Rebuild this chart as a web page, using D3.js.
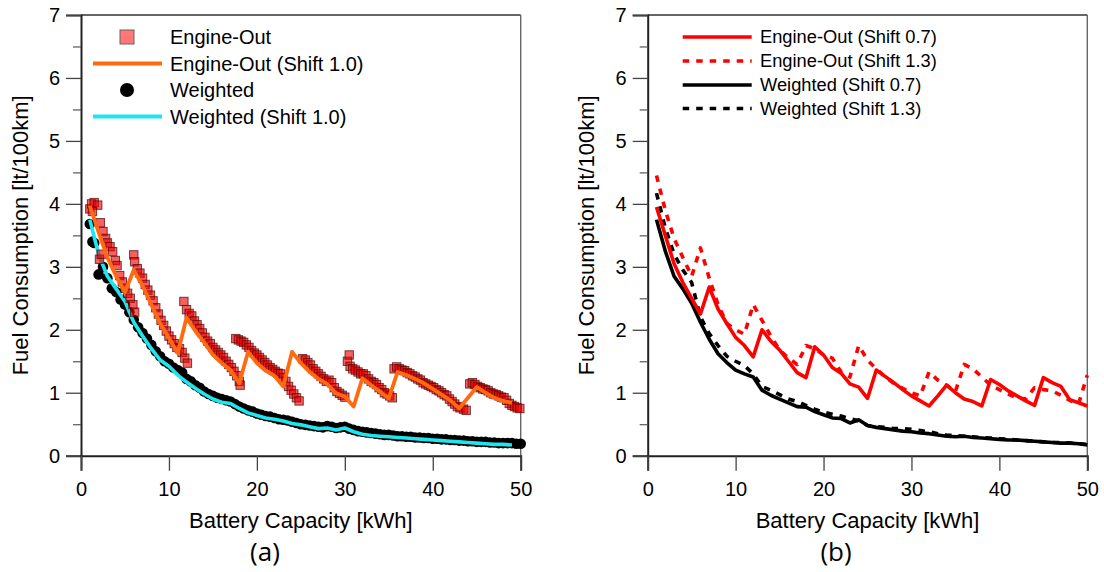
<!DOCTYPE html>
<html><head><meta charset="utf-8">
<script src="https://cdn.jsdelivr.net/npm/d3@7"></script>
<style>body{margin:0;background:#fff}svg text{font-family:"Liberation Sans",Arial,sans-serif;fill:#000}</style>
</head><body><svg id="c" width="1104" height="572"></svg>
<script>
// ---------- DATA ----------
const xTicks = [0,10,20,30,40,50];
const yTicks = [0,1,2,3,4,5,6,7];
const xInt = d3.range(1,51); // integer battery capacities 1..50 kWh

// Panel (a): Engine-Out (Shift 1.0), x = 1..49
const engineOutShift10 = [3.97,3.55,3.15,2.85,2.6,2.95,2.7,2.4,2.1,1.87,1.63,2.19,1.98,1.8,1.6,1.47,1.36,1.15,1.65,1.47,1.35,1.27,1.1,1.65,1.47,1.33,1.22,1.14,0.99,0.94,0.78,1.23,1.12,1.02,0.91,1.33,1.28,1.22,1.15,1.06,0.97,0.88,0.75,0.92,1.09,1.0,0.92,0.87,0.84];
// Panel (a): Weighted (Shift 1.0), x = 1..49
const weightedShift10 = [3.75,3.2,2.85,2.65,2.45,2.12,1.9,1.7,1.52,1.42,1.28,1.17,1.07,0.98,0.9,0.85,0.83,0.75,0.68,0.64,0.6,0.58,0.55,0.51,0.49,0.46,0.43,0.44,0.41,0.44,0.38,0.34,0.32,0.31,0.3,0.29,0.28,0.27,0.26,0.25,0.24,0.23,0.22,0.21,0.2,0.19,0.18,0.18,0.17];
// Panel (a): Engine-Out scatter [kWh, lt/100km]
const engineOutPts = [
[1.0,3.92],[1.2,4.0],[1.5,4.02],[1.9,3.98],[1.3,3.88],[2.1,3.12],[2.3,3.2],[2.2,3.7],[2.5,3.56],[2.8,3.45],[3.0,3.38],[3.3,3.32],[3.6,3.24],[3.9,3.1],[4.1,3.02],[4.4,2.86],[4.7,2.76],[5.0,2.66],[5.3,2.58],[5.6,2.5],[5.9,2.4],[6.1,2.28],
[6.0,3.19],[6.1,3.08],[6.4,2.97],[6.7,2.9],[7.0,2.82],[7.3,2.72],[7.6,2.63],[7.9,2.55],[8.2,2.46],[8.5,2.35],[8.8,2.25],[9.1,2.15],[9.4,2.07],[9.7,1.98],[10.0,1.9],[10.3,1.84],[10.6,1.78],[10.9,1.72],[11.2,1.7],[11.5,1.64],[11.8,1.55],[12.1,1.47],
[11.7,2.45],[12.0,2.32],[12.3,2.26],[12.6,2.22],[12.9,2.14],[13.2,2.08],[13.5,2.02],[13.8,1.95],[14.1,1.88],[14.4,1.82],[14.7,1.78],[15.0,1.72],[15.3,1.68],[15.6,1.64],[15.9,1.6],[16.2,1.56],[16.5,1.5],[16.8,1.45],[17.1,1.4],[17.4,1.34],[17.7,1.27],[18.0,1.18],[18.1,1.12],
[17.6,1.86],[17.9,1.84],[18.2,1.82],[18.5,1.8],[18.8,1.76],[19.1,1.72],[19.4,1.67],[19.7,1.63],[20.0,1.6],[20.3,1.56],[20.6,1.52],[20.9,1.48],[21.2,1.44],[21.5,1.4],[21.8,1.37],[22.1,1.34],[22.4,1.31],[22.7,1.3],[23.0,1.24],[23.3,1.18],[23.6,1.1],[23.9,1.04],[24.2,0.98],[24.5,0.92],[24.8,0.87],
[25.2,1.54],[25.5,1.52],[25.8,1.48],[26.1,1.44],[26.4,1.38],[26.7,1.34],[27.0,1.3],[27.3,1.26],[27.6,1.22],[27.9,1.18],[28.2,1.2],[28.5,1.16],[28.8,1.08],[29.1,1.02],[29.4,0.99],[29.7,0.96],[30.0,0.93],
[30.3,1.5],[30.5,1.6],[30.6,1.42],[30.9,1.38],[31.2,1.36],[31.5,1.33],[31.8,1.3],[32.1,1.3],[32.4,1.27],[32.7,1.22],[33.0,1.18],[33.3,1.16],[33.6,1.13],[33.9,1.08],[34.2,1.05],[34.5,1.0],[34.8,0.98],[35.1,0.95],[35.4,0.92],
[35.6,1.38],[35.9,1.41],[36.2,1.38],[36.5,1.36],[36.8,1.35],[37.1,1.32],[37.4,1.3],[37.7,1.27],[38.0,1.25],[38.3,1.22],[38.6,1.2],[38.9,1.16],[39.2,1.14],[39.5,1.12],[39.8,1.1],[40.1,1.08],[40.4,1.05],[40.7,1.03],[41.0,1.0],[41.3,0.97],[41.6,0.95],[41.9,0.9],[42.2,0.86],[42.5,0.82],[42.8,0.78],[43.1,0.76],[43.5,0.74],[43.8,0.72],
[44.2,1.14],[44.5,1.16],[44.8,1.13],[45.1,1.1],[45.4,1.08],[45.7,1.06],[46.0,1.05],[46.3,1.03],[46.6,1.0],[46.9,0.98],[47.2,0.97],[47.5,0.95],[47.8,0.93],[48.1,0.92],[48.4,0.88],[48.7,0.83],[49.0,0.8],[49.3,0.78],[49.6,0.76],[49.9,0.75]];
// Panel (a): Weighted scatter [kWh, lt/100km]
const weightedPts = [
[1.0,3.68],[1.3,3.4],[1.5,3.38],[2.0,2.88],[2.5,3.0],[3.0,2.82],[3.5,2.66],[4.0,2.6],[4.5,2.48],[5.0,2.4],[5.5,2.28],[6.0,2.16],[6.5,2.04],[7.0,1.95],[7.5,1.86],[8.0,1.76],[8.5,1.66],[9.0,1.58],[9.5,1.5],[10.0,1.46],[10.5,1.4],[11.0,1.36],[11.5,1.32],[12.0,1.22],[12.5,1.18],[13.0,1.12],[13.5,1.08],[14.0,1.02],[14.5,0.98],[15.0,0.95],[15.5,0.92],[16.0,0.9],[16.5,0.88],[17.0,0.86],[17.5,0.82],[18.0,0.78],[18.5,0.75],[19.0,0.72],[19.5,0.7],[20.0,0.67],[20.5,0.65],[21.0,0.63],[21.5,0.62],[22.0,0.6],[22.5,0.58],[23.0,0.57],[23.5,0.56],[24.0,0.54],[24.5,0.52],[25.0,0.5],[25.5,0.49],[26.0,0.48],[26.5,0.47],[27.0,0.46],[27.5,0.45],[28.0,0.47],[28.5,0.46],[29.0,0.44],[29.5,0.45],[30.0,0.46],[30.5,0.43],[31.0,0.41],[31.5,0.39],[32.0,0.38],[32.5,0.37],[33.0,0.36],[33.5,0.35],[34.0,0.34],[34.5,0.33],[35.0,0.33],[35.5,0.32],[36.0,0.31],[36.5,0.31],[37.0,0.3],[37.5,0.3],[38.0,0.29],[38.5,0.29],[39.0,0.28],[39.5,0.28],[40.0,0.27],[40.5,0.27],[41.0,0.26],[41.5,0.26],[42.0,0.25],[42.5,0.25],[43.0,0.24],[43.5,0.24],[44.0,0.23],[44.5,0.23],[45.0,0.22],[45.5,0.22],[46.0,0.22],[46.5,0.21],[47.0,0.21],[47.5,0.2],[48.0,0.2],[48.5,0.2],[49.0,0.2],[49.5,0.19],[50.0,0.19]];

// Panel (b), x = 1..50
const engineOutShift07 = [3.95,3.5,3.05,2.75,2.5,2.25,2.68,2.33,2.1,1.88,1.75,1.57,2.0,1.82,1.68,1.5,1.32,1.24,1.73,1.6,1.4,1.31,1.14,1.09,0.91,1.36,1.26,1.16,1.05,0.95,0.87,0.79,0.95,1.12,1.0,0.9,0.86,0.79,1.21,1.13,1.03,0.95,0.87,0.8,1.24,1.16,1.1,0.89,0.84,0.79];
const engineOutShift13 = [4.45,3.9,3.45,3.15,2.85,3.3,2.82,2.4,2.1,2.0,1.93,2.4,2.15,1.9,1.68,1.55,1.45,1.75,1.7,1.6,1.55,1.33,1.25,1.75,1.52,1.38,1.25,1.15,1.07,1.0,0.95,1.33,1.2,1.12,1.02,1.45,1.38,1.25,1.12,1.05,0.98,0.92,0.9,1.08,1.05,1.03,0.96,0.88,0.82,1.28];
const weightedShift07 = [3.75,3.25,2.85,2.65,2.42,2.12,1.85,1.62,1.48,1.36,1.3,1.25,1.04,0.96,0.9,0.84,0.78,0.77,0.7,0.65,0.6,0.59,0.52,0.57,0.48,0.45,0.43,0.41,0.39,0.38,0.36,0.35,0.33,0.31,0.3,0.31,0.29,0.28,0.27,0.26,0.25,0.25,0.24,0.23,0.22,0.21,0.2,0.2,0.19,0.17];
const weightedShift13 = [4.17,3.62,3.2,2.95,2.75,2.2,1.94,1.75,1.58,1.5,1.43,1.3,1.1,1.04,0.97,0.9,0.86,0.8,0.74,0.69,0.66,0.63,0.59,0.55,0.48,0.46,0.45,0.43,0.43,0.42,0.4,0.38,0.35,0.33,0.32,0.31,0.3,0.29,0.28,0.27,0.26,0.25,0.24,0.23,0.22,0.21,0.21,0.2,0.19,0.18];

const legendA = ["Engine-Out","Engine-Out (Shift 1.0)","Weighted","Weighted (Shift 1.0)"];
const legendB = ["Engine-Out (Shift 0.7)","Engine-Out (Shift 1.3)","Weighted (Shift 0.7)","Weighted (Shift 1.3)"];
const xTitle = "Battery Capacity [kWh]", yTitle = "Fuel Consumption [lt/100km]";

// ---------- DRAW ----------
const svg = d3.select("#c");
const y = d3.scaleLinear().domain([0,7]).range([455.7,15]);

function frame(x, panelLabel, labelX){
  const g = svg.append("g");
  const [x0,x1] = x.range();
  g.append("line").attr("x1",x0).attr("x2",x1).attr("y1",y(7)).attr("y2",y(7)).attr("stroke","#333").attr("stroke-width",1.4);
  g.append("line").attr("x1",x1).attr("x2",x1).attr("y1",y(7)).attr("y2",y(0)).attr("stroke","#666").attr("stroke-width",1.4);
  const ya = g.append("g").attr("transform",`translate(${x0},0)`)
    .call(d3.axisLeft(y).tickValues(yTicks).tickSize(15).tickPadding(6).tickFormat(d3.format("d")));
  ya.selectAll(".tick line").attr("stroke","#444").attr("stroke-width",1.3);
  ya.select(".domain").attr("stroke","#222").attr("stroke-width",2);
  ya.selectAll("text").attr("font-size",20);
  g.append("g").attr("transform",`translate(${x0},0)`)
    .call(d3.axisLeft(y).tickValues(d3.range(0.5,7,1)).tickSize(8).tickFormat(""))
    .call(s=>{s.select(".domain").remove(); s.selectAll("line").attr("stroke","#555").attr("stroke-width",1.2);});
  const xa = g.append("g").attr("transform",`translate(0,${y(0)})`)
    .call(d3.axisBottom(x).tickValues(xTicks).tickSize(15).tickPadding(11).tickFormat(d3.format("d")));
  xa.selectAll(".tick line").attr("stroke","#444").attr("stroke-width",1.3);
  xa.select(".domain").attr("stroke","#222").attr("stroke-width",2);
  xa.selectAll("text").attr("font-size",20);
  g.append("text").attr("x",(x0+x1)/2).attr("y",528).attr("text-anchor","middle").attr("font-size",22).text(xTitle);
  g.append("text").attr("transform",`translate(${x0-61},${(y(0)+y(7))/2}) rotate(-90)`).attr("dy","0.35em")
    .attr("text-anchor","middle").attr("font-size",22).text(yTitle);
  g.append("text").attr("x",labelX).attr("y",561).attr("text-anchor","middle")
    .style("font-family","'Open Sans','Noto Sans',sans-serif").attr("font-size",26).text(panelLabel);
}

// Panel (a)
const xa = d3.scaleLinear().domain([0,50]).range([81,520.7]);
frame(xa,"(a)",265);
const lineA = d3.line().x((d,i)=>xa(xInt[i])).y(d=>y(d));
const gA = svg.append("g");
gA.selectAll("circle.w").data(weightedPts).join("circle").attr("class","w")
  .attr("cx",d=>xa(d[0])).attr("cy",d=>y(d[1])).attr("r",5.3).attr("fill","#000");
gA.append("path").attr("d",lineA(weightedShift10)).attr("fill","none").attr("stroke","#1ee6ee").attr("stroke-width",3.6).attr("stroke-linejoin","round");
gA.selectAll("rect.e").data(engineOutPts).join("rect").attr("class","e")
  .attr("x",d=>xa(d[0])-4.2).attr("y",d=>y(d[1])-4.2).attr("width",8.4).attr("height",8.4)
  .attr("fill","rgba(235,0,0,0.62)").attr("stroke","rgba(80,0,0,0.7)").attr("stroke-width",1);
gA.append("path").attr("d",lineA(engineOutShift10)).attr("fill","none").attr("stroke","#ff6a10").attr("stroke-width",3.8).attr("stroke-linejoin","round");

// legend (a)
const legAy = [37,63.5,90,116.5];
const lg = svg.append("g");
lg.append("rect").attr("x",120).attr("y",legAy[0]-7).attr("width",14).attr("height",14).attr("fill","#f77").attr("stroke","#666").attr("stroke-width",1);
lg.append("line").attr("x1",93).attr("x2",162).attr("y1",legAy[1]).attr("y2",legAy[1]).attr("stroke","#ff6a10").attr("stroke-width",3.8);
lg.append("circle").attr("cx",127).attr("cy",legAy[2]).attr("r",7).attr("fill","#000");
lg.append("line").attr("x1",93).attr("x2",162).attr("y1",legAy[3]).attr("y2",legAy[3]).attr("stroke","#1ee6ee").attr("stroke-width",4);
legendA.forEach((t,i)=>lg.append("text").attr("x",170).attr("y",legAy[i]).attr("dy","0.35em").attr("font-size",20).text(t));

// Panel (b)
const xb = d3.scaleLinear().domain([0,50]).range([647.7,1087.3]);
frame(xb,"(b)",836);
const lineB = d3.line().x((d,i)=>xb(xInt[i])).y(d=>y(d));
const seriesB = [
  {v:engineOutShift07,c:"#ff0000",dash:null},
  {v:engineOutShift13,c:"#ff0000",dash:"6.5,7"},
  {v:weightedShift07,c:"#000",dash:null},
  {v:weightedShift13,c:"#000",dash:"6.5,7"}];
const gB = svg.append("g");
[3,2,1,0].forEach(k=>{
  const s=seriesB[k];
  const p=gB.append("path").attr("d",lineB(s.v)).attr("fill","none").attr("stroke",s.c).attr("stroke-width",3.6).attr("stroke-linejoin","round");
  if(s.dash) p.attr("stroke-dasharray",s.dash);
});
const legBy = [37,61,85,108.5];
legendB.forEach((t,i)=>{
  const s=seriesB[i];
  const l=svg.append("line").attr("x1",682.7).attr("x2",751.7).attr("y1",legBy[i]).attr("y2",legBy[i]).attr("stroke",s.c).attr("stroke-width",3.6);
  if(s.dash) l.attr("stroke-dasharray",s.dash);
  svg.append("text").attr("x",760).attr("y",legBy[i]).attr("dy","0.35em").attr("font-size",18.3).text(t);
});
</script></body></html>
